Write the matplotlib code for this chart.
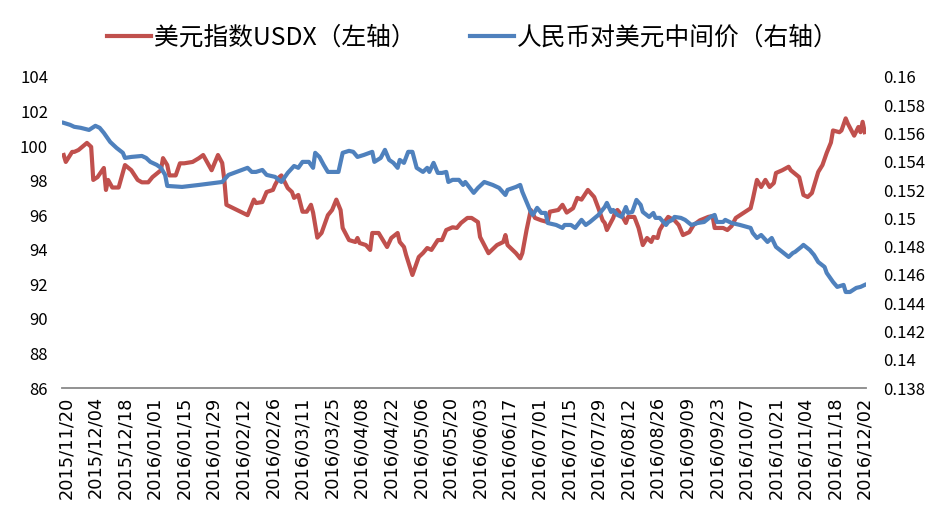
import matplotlib
matplotlib.use('Agg')
import matplotlib.pyplot as plt
import matplotlib.dates as mdates
from matplotlib.ticker import FuncFormatter
import numpy as np
import pandas as pd

START = '2015-11-20'
END = '2016-12-02'

# USDX (left axis): day offset from START, value
usdx_day = [-1, 0, 3, 4, 6, 10, 12, 13, 15, 18, 19, 20, 22, 25, 28, 31, 34, 36, 39, 41,
            45, 46, 48, 49, 52, 54, 56, 60, 63, 65, 69, 72, 74, 75, 76, 86, 89, 90, 93, 95,
            98, 99, 101, 102, 105, 107, 108, 110, 112, 114, 116, 117, 119, 121, 124, 126, 128, 130, 131, 134,
            137, 138, 139, 142, 144, 145, 148, 150, 152, 154, 157, 158, 160, 161, 164, 167, 169, 171, 173, 176,
            178, 180, 183, 185, 187, 190, 192, 195, 196, 200, 204, 207, 208, 209, 213, 215, 216, 218, 220, 222,
            225, 228, 229, 233, 235, 237, 240, 242, 244, 247, 250, 252, 254, 255, 256, 259, 260, 261, 263, 265,
            266, 269, 271, 273, 275, 277, 278, 280, 281, 283, 285, 288, 290, 292, 295, 297, 300, 304, 306, 307,
            309, 311, 313, 315, 317, 324, 325, 327, 329, 331, 333, 335, 336, 339, 342, 343, 344, 347, 349, 351,
            353, 356, 358, 360, 362, 363, 366, 367, 369, 370, 373, 375, 376, 377, 378]
usdx_val = [99.48, 99.08, 99.66, 99.66, 99.77, 100.18, 99.95, 98.04, 98.2, 98.73, 97.46, 98.04, 97.6, 97.6, 98.9, 98.6, 98.04, 97.9, 97.9, 98.2,
            98.6, 99.3, 98.9, 98.3, 98.3, 99.0, 99.0, 99.08, 99.3, 99.48, 98.6, 99.48, 99.02, 98.04, 96.6, 96.0, 96.9, 96.7, 96.76, 97.34,
            97.46, 97.75, 98.2, 98.3, 97.57, 97.34, 97.0, 97.17, 96.2, 96.2, 96.6, 96.15, 94.7, 94.97, 96.0, 96.3, 96.9, 96.3, 95.26, 94.56,
            94.45, 94.68, 94.39, 94.27, 93.99, 94.97, 94.97, 94.56, 94.16, 94.68, 94.97, 94.45, 94.16, 93.7, 92.54, 93.58, 93.81, 94.1, 93.99, 94.56,
            94.56, 95.14, 95.3, 95.26, 95.55, 95.84, 95.84, 95.6, 94.74, 93.8, 94.27, 94.45, 94.85, 94.27, 93.8, 93.5, 93.8, 95.14, 96.3, 95.84,
            95.7, 95.6, 96.2, 96.3, 96.6, 96.15, 96.4, 97.0, 96.9, 97.46, 97.05, 96.4, 95.7, 95.55, 95.14, 95.84, 96.2, 96.3, 96.0, 95.55,
            95.9, 95.9, 95.26, 94.27, 94.68, 94.45, 94.74, 94.68, 95.14, 95.55, 95.9, 95.7, 95.43, 94.85, 95.02, 95.43, 95.7, 95.9, 95.95, 95.26,
            95.26, 95.26, 95.14, 95.37, 95.84, 96.4, 96.9, 98.04, 97.63, 98.04, 97.63, 97.86, 98.44, 98.6, 98.8, 98.6, 98.5, 98.2, 97.17, 97.05,
            97.28, 98.5, 98.9, 99.6, 100.2, 100.9, 100.8, 100.9, 101.6, 101.3, 100.6, 101.1, 100.8, 101.4, 100.8]

# CNY per USD central parity (right axis)
cny_day = [-1, 2, 4, 7, 11, 14, 16, 18, 21, 24, 27, 28, 31, 36, 38, 40, 43, 45, 47, 48,
           55, 63, 74, 77, 86, 88, 90, 93, 95, 99, 102, 105, 108, 110, 112, 115, 117, 118, 120, 122,
           124, 126, 129, 131, 134, 136, 138, 141, 145, 146, 149, 151, 153, 155, 157, 158, 160, 162, 164, 166,
           169, 171, 172, 174, 176, 178, 180, 181, 183, 186, 188, 189, 193, 195, 198, 202, 205, 208, 209, 213,
           215, 216, 218, 220, 221, 223, 225, 227, 228, 232, 235, 236, 239, 241, 244, 246, 248, 252, 255, 256,
           258, 259, 261, 263, 265, 266, 268, 270, 272, 273, 276, 278, 279, 281, 284, 285, 287, 288, 291, 293,
           296, 299, 302, 305, 307, 308, 311, 312, 315, 319, 324, 325, 327, 329, 332, 334, 336, 339, 342, 344,
           345, 348, 349, 352, 354, 356, 359, 360, 363, 365, 368, 369, 371, 374, 376, 378]
cny_val = [0.15675, 0.15661, 0.15647, 0.1564, 0.15625, 0.15654, 0.1564, 0.15604, 0.1554, 0.15498, 0.15463, 0.15427, 0.15434, 0.15441, 0.15427, 0.15399, 0.15378, 0.15357, 0.15307, 0.15229,
           0.15222, 0.15236, 0.15257, 0.15307, 0.15357, 0.15328, 0.15328, 0.15342, 0.15307, 0.15293, 0.15257, 0.15321, 0.1537, 0.15357, 0.15399, 0.15399, 0.15357, 0.15463, 0.15434, 0.15378,
           0.15328, 0.15328, 0.15328, 0.15463, 0.15477, 0.1547, 0.15434, 0.15448, 0.1547, 0.15399, 0.15427, 0.15484, 0.15413, 0.15392, 0.15357, 0.15413, 0.15392, 0.1547, 0.1547, 0.15357,
           0.15328, 0.15357, 0.15328, 0.15392, 0.15321, 0.15321, 0.15328, 0.15257, 0.15272, 0.15272, 0.15236, 0.15257, 0.1518, 0.15215, 0.15257, 0.15236, 0.15215, 0.15165, 0.15201, 0.15222,
           0.15236, 0.15187, 0.15116, 0.15045, 0.15024, 0.15074, 0.15038, 0.15038, 0.14967, 0.14953, 0.14932, 0.14953, 0.14953, 0.14932, 0.14989, 0.14953, 0.14974, 0.15024, 0.1508, 0.15109,
           0.15045, 0.15059, 0.15024, 0.1501, 0.1508, 0.15038, 0.15045, 0.1513, 0.15095, 0.15045, 0.1501, 0.15038, 0.15003, 0.15003, 0.14953, 0.14974, 0.14989, 0.1501, 0.15003, 0.14989,
           0.14953, 0.14967, 0.14974, 0.1501, 0.15024, 0.14974, 0.14974, 0.14989, 0.14967, 0.14953, 0.14932, 0.14897, 0.14861, 0.14882, 0.14833, 0.14861, 0.14798, 0.14762, 0.14727, 0.14755,
           0.14762, 0.14798, 0.14812, 0.14776, 0.14741, 0.14691, 0.14656, 0.14614, 0.1455, 0.14515, 0.14529, 0.14479, 0.14479, 0.14508, 0.14515, 0.14529]

left_ticks = [86, 88, 90, 92, 94, 96, 98, 100, 102, 104]
right_ticks = [0.138, 0.14, 0.142, 0.144, 0.146, 0.148, 0.15, 0.152, 0.154, 0.156, 0.158, 0.16]

label_usdx = '美元指数USDX（左轴）'
label_cny = '人民币对美元中间价（右轴）'

RED = '#C0504D'
BLUE = '#4F81BD'

plt.rcParams['font.family'] = ['Noto Sans CJK SC', 'DejaVu Sans']

start = pd.Timestamp(START)
usdx_x = start + pd.to_timedelta(usdx_day, unit='D')
cny_x = start + pd.to_timedelta(cny_day, unit='D')
date_ticks = pd.date_range(START, END, freq='14D')

fig = plt.figure(figsize=(9.45, 5.16), dpi=100)
ax = fig.add_axes([0.0656, 0.248, 0.8508, 0.603])
ax2 = ax.twinx()

l1, = ax.plot(usdx_x, usdx_val, color=RED, lw=3, solid_joinstyle='round')
l2, = ax2.plot(cny_x, cny_val, color=BLUE, lw=3, solid_joinstyle='round')

ax.set_ylim(86, 104)
ax.set_yticks(left_ticks)
ax2.set_ylim(0.138, 0.16)
ax2.set_yticks(right_ticks)
ax2.yaxis.set_major_formatter(FuncFormatter(lambda v, p: f'{v:.3f}'.rstrip('0')))

ax.set_xlim(start - pd.Timedelta(days=1.8), start + pd.Timedelta(days=378.6))
ax.set_xticks(date_ticks)
ax.xaxis.set_major_formatter(mdates.DateFormatter('%Y/%m/%d'))

for a in (ax, ax2):
    for s in ('top', 'left', 'right', 'bottom'):
        a.spines[s].set_visible(False)
    a.tick_params(length=0)

ax.spines['bottom'].set_visible(True)
ax.spines['bottom'].set_color('#898989')
ax.spines['bottom'].set_linewidth(1.3)

ax.tick_params(axis='x', rotation=90, labelsize=12.8, pad=6, labelfontfamily='DejaVu Sans')
ax.tick_params(axis='y', labelsize=12, pad=10)
ax2.tick_params(axis='y', labelsize=12, pad=12)

fig.legend([l1, l2], [label_usdx, label_cny], loc='upper center',
           bbox_to_anchor=(0.5, 0.995), ncol=2, frameon=False, fontsize=17.8,
           handlelength=1.8, handletextpad=0.1, columnspacing=2.2)

fig.savefig('out.png', dpi=100)
